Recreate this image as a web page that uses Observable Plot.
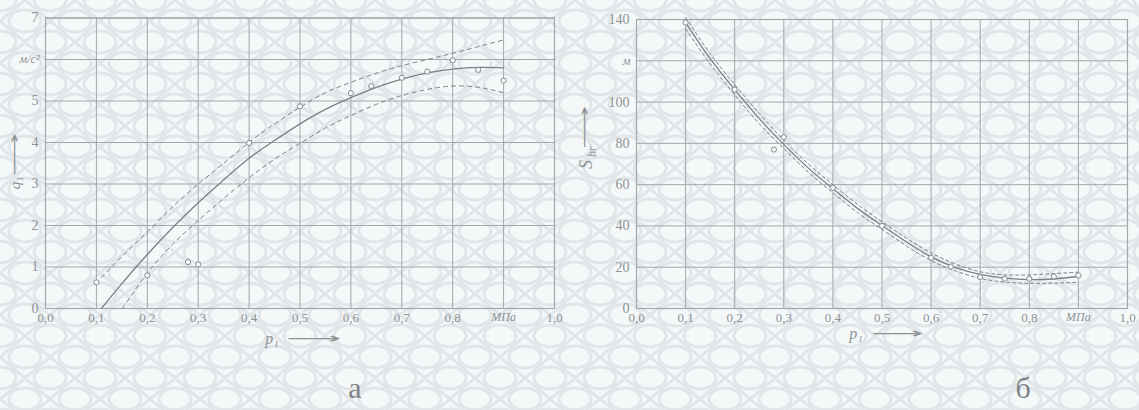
<!DOCTYPE html>
<html><head><meta charset="utf-8">
<script src="https://cdn.jsdelivr.net/npm/d3@7"></script>
<script src="https://cdn.jsdelivr.net/npm/@observablehq/plot@0.6"></script>
<style>
html,body{margin:0;padding:0;background:#f3f6f7;}
#wrap{position:relative;width:1139px;height:410px;overflow:hidden;background-color:#f5f8f9;
background-image:url("data:image/svg+xml,%3Csvg xmlns='http://www.w3.org/2000/svg' width='50' height='42'%3E%3Cg fill='none' stroke='%23e1e6e9' stroke-width='3'%3E%3Cellipse cx='25' cy='21' rx='16' ry='11'/%3E%3Cellipse cx='0' cy='0' rx='16' ry='11'/%3E%3Cellipse cx='50' cy='0' rx='16' ry='11'/%3E%3Cellipse cx='0' cy='42' rx='16' ry='11'/%3E%3Cellipse cx='50' cy='42' rx='16' ry='11'/%3E%3Cpath d='M0 21 L25 0 L50 21 L25 42 Z'/%3E%3C/g%3E%3C/svg%3E");}
#wrap svg{position:absolute;top:0;}
#wrap svg text{font-family:'Liberation Serif','DejaVu Serif',serif;}
#wrap svg text.arr{font-family:'DejaVu Sans',sans-serif;}
</style></head><body><div id="wrap"></div>
<script>
// ---- shared axis data ----
const xGrid = [0,0.1,0.2,0.3,0.4,0.5,0.6,0.7,0.8,0.9,1.0];
const xTickVals = [0,0.1,0.2,0.3,0.4,0.5,0.6,0.7,0.8,1.0];
const xUnitTick = [0.9];
const xUnit = "МПа";
const xLabel = "p₁";
const arrowGlyph = "⟶";
const arrowGlyphV = "⟶\u200B";

// ---- panel a ----
const qGrid = [0,1,2,3,4,5,6,7];
const qTickVals = [0,1,2,3,4,5,7];
const qUnitTick = [6];
const qUnit = "м/с²";
const qLabel = "q₁";
const captionA = "а";

const pSolidA = [0.11,0.15,0.2,0.25,0.3,0.35,0.4,0.45,0.5,0.55,0.6,0.65,0.7,0.75,0.8,0.85,0.9];
const qSolidA = [0,0.6,1.3,1.95,2.55,3.1,3.62,4.05,4.45,4.8,5.08,5.33,5.53,5.68,5.77,5.81,5.8];
const pUpperA = [0.11,0.15,0.2,0.25,0.3,0.35,0.4,0.45,0.5,0.55,0.6,0.65,0.7,0.75,0.8,0.85,0.9];
const qUpperA = [0.75,1.25,1.85,2.45,3.0,3.5,4.0,4.45,4.85,5.2,5.45,5.67,5.85,6.0,6.15,6.31,6.47];
const pLowerA = [0.151,0.2,0.25,0.3,0.35,0.4,0.45,0.5,0.55,0.6,0.65,0.7,0.75,0.8,0.85,0.9];
const qLowerA = [0,0.85,1.55,2.12,2.65,3.15,3.6,3.98,4.35,4.65,4.92,5.13,5.28,5.36,5.33,5.2];
const pPtsA = [0.1,0.2,0.28,0.3,0.4,0.5,0.6,0.64,0.7,0.75,0.8,0.85,0.9];
const qPtsA = [0.63,0.8,1.12,1.06,3.99,4.87,5.19,5.36,5.56,5.71,5.98,5.75,5.49];

// ---- panel б ----
const sGrid = [0,20,40,60,80,100,120,140];
const sTickVals = [0,20,40,60,80,100,140];
const sUnitTick = [120];
const sUnit = "м";
const sLabel = "S";
const sLabelSub = "br";
const captionB = "б";

const pB = [0.1,0.15,0.2,0.25,0.3,0.35,0.4,0.45,0.5,0.55,0.6,0.65,0.7,0.75,0.8,0.85,0.9];
const sSolidB = [138.5,121,106,92,79.5,68,58,48.5,40.2,32.2,25,19.8,16.5,14.7,14.0,14.3,15.5];
const sUpperB = [141,123.5,108.5,94.5,81.5,70,60,50.5,42,34,27,21.5,17.8,16.3,16.3,16.9,17.6];
const sLowerB = [135.5,118.5,103.5,89.5,77.5,66,56,46.5,38.3,30.3,23.2,18.2,14.6,12.8,12.2,12.3,12.7];
const pPtsB = [0.1,0.2,0.28,0.3,0.4,0.5,0.6,0.64,0.7,0.75,0.8,0.85,0.9];
const sPtsB = [138.5,106,77,83,58.5,40,24.6,20.3,15.2,14.4,14.4,15.5,16];

// ---- helpers ----
const zip = (xs, ys) => xs.map((x, i) => ({x, y: ys[i]}));
const fmt = d => d.toFixed(1).replace(".", ",");
const GRID = "#a3a7aa", TXT = "#8e9295", LINE = "#7c8084";

function panel({yDomain, yGrid, yTicks, yUnitTick, yUnit, solid, upper, lower, pts, dash, caption,
                width, mL, mR, mT, yLabelMarks, xLabDx, xArrDx, xLabDy, xArrLen, capDx}) {
  const svg = Plot.plot({
    width, height: 410,
    marginLeft: mL, marginRight: mR, marginTop: mT, marginBottom: 102,
    style: {background: "transparent", fontSize: "12px", color: TXT, overflow: "visible"},
    x: {domain: [0, 1], label: null},
    y: {domain: yDomain, label: null},
    marks: [
      Plot.gridX(xGrid, {stroke: GRID, strokeOpacity: 1, strokeWidth: 1}),
      Plot.gridY(yGrid, {stroke: GRID, strokeOpacity: 1, strokeWidth: 1}),
      Plot.frame({stroke: GRID, strokeWidth: 1.2}),
      Plot.axisX(xTickVals, {tickSize: 0, tickPadding: 4, tickFormat: fmt, fill: TXT, fontSize: 13, label: null}),
      Plot.axisX(xUnitTick, {tickSize: 0, tickPadding: 4, tickFormat: () => xUnit, fill: TXT, fontSize: 12, fontStyle: "italic", label: null}),
      Plot.axisY(yTicks, {tickSize: 0, tickPadding: 7, fill: TXT, fontSize: 14, label: null}),
      Plot.axisY(yUnitTick, {tickSize: 0, tickPadding: 6, tickFormat: () => yUnit, fill: TXT, fontSize: 12, fontStyle: "italic", label: null}),
      Plot.line(upper, {x: "x", y: "y", curve: "natural", stroke: LINE, strokeWidth: 1, strokeDasharray: dash}),
      Plot.line(lower, {x: "x", y: "y", curve: "natural", stroke: LINE, strokeWidth: 1, strokeDasharray: dash}),
      Plot.line(solid, {x: "x", y: "y", curve: "natural", stroke: LINE, strokeWidth: 1.3}),
      Plot.dot(pts, {x: "x", y: "y", r: 2.6, stroke: LINE, strokeWidth: 0.9, fill: "#f6f8f9"}),
      Plot.text([xLabel], {text: d => d, frameAnchor: "bottom", dx: xLabDx, dy: xLabDy, fontStyle: "italic", fontSize: 16, fill: TXT}),
      Plot.text([arrowGlyph], {text: d => d, frameAnchor: "bottom", textAnchor: "start", dx: xArrDx, dy: xLabDy - 1, fontSize: 14, fill: TXT}),
      Plot.text([caption], {text: d => d, frameAnchor: "bottom", dx: capDx, dy: 89, fontSize: 30, fill: "#7d8185"}),
      ...yLabelMarks
    ]
  });
  d3.select(svg).selectAll("text").filter(function() { return this.textContent === arrowGlyph; })
    .attr("class", "arr").attr("textLength", xArrLen).attr("lengthAdjust", "spacingAndGlyphs");
  d3.select(svg).selectAll("text").filter(function() { return this.textContent === arrowGlyphV; })
    .attr("class", "arr").attr("textLength", 43).attr("lengthAdjust", "spacingAndGlyphs");
  return svg;
}

const wrap = document.getElementById("wrap");

const left = panel({
  yDomain: [0, 7], yGrid: qGrid, yTicks: qTickVals, yUnitTick: qUnitTick, yUnit: qUnit, caption: captionA,
  solid: zip(pSolidA, qSolidA), upper: zip(pUpperA, qUpperA), lower: zip(pLowerA, qLowerA), pts: zip(pPtsA, qPtsA),
  dash: "4,4", width: 570, mL: 45, mR: 16, mT: 17.5,
  xLabDx: -28, xArrDx: -14, xLabDy: 35, xArrLen: 55, capDx: 55,
  yLabelMarks: [
    Plot.text([qLabel], {text: d => d, frameAnchor: "left", rotate: -90, dx: -30, dy: 26, fontStyle: "italic", fontSize: 15, fill: TXT}),
    Plot.text([arrowGlyphV], {text: d => d, frameAnchor: "left", textAnchor: "start", rotate: -90, dx: -31, dy: 13, fontSize: 14, fill: TXT})
  ]
});
left.style.left = "0px";
wrap.appendChild(left);

const right = panel({
  yDomain: [0, 140], yGrid: sGrid, yTicks: sTickVals, yUnitTick: sUnitTick, yUnit: sUnit, caption: captionB,
  solid: zip(pB, sSolidB), upper: zip(pB, sUpperB), lower: zip(pB, sLowerB), pts: zip(pPtsB, sPtsB),
  dash: "3,3", width: 569, mL: 66, mR: 12, mT: 19,
  xLabDx: -26, xArrDx: -11, xLabDy: 30, xArrLen: 52, capDx: 141,
  yLabelMarks: [
    Plot.text([sLabel], {text: d => d, frameAnchor: "left", rotate: -90, dx: -50, dy: 5, fontStyle: "italic", fontSize: 18, fill: TXT}),
    Plot.text([sLabelSub], {text: d => d, frameAnchor: "left", rotate: -90, dx: -44, dy: -7, fontStyle: "italic", fontSize: 12, fill: TXT}),
    Plot.text([arrowGlyphV], {text: d => d, frameAnchor: "left", textAnchor: "start", rotate: -90, dx: -52, dy: -15, fontSize: 14, fill: TXT})
  ]
});
right.style.left = "570px";
wrap.appendChild(right);
</script></body></html>
